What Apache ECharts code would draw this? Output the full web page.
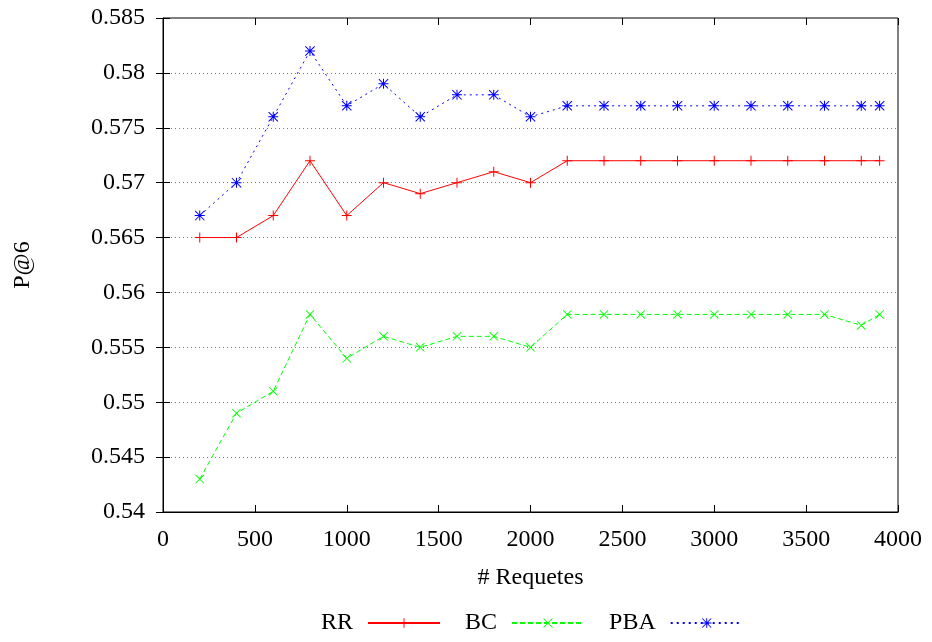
<!DOCTYPE html>
<html>
<head>
<meta charset="utf-8">
<script src="https://cdn.jsdelivr.net/npm/echarts@6/dist/echarts.min.js"></script>
<style>
  html, body { margin: 0; padding: 0; background: #fff; }
  #chart { width: 932px; height: 642px; }
</style>
</head>
<body>
<div id="chart"></div>
<script>
// nombre de requetes
const requetes = [200, 400, 600, 800, 1000, 1200, 1400, 1600, 1800, 2000,
                  2200, 2400, 2600, 2800, 3000, 3200, 3400, 3600, 3800, 3900];
const rr  = [0.565, 0.565, 0.567, 0.572, 0.567, 0.570, 0.569, 0.570, 0.571, 0.570,
             0.572, 0.572, 0.572, 0.572, 0.572, 0.572, 0.572, 0.572, 0.572, 0.572];
const bc  = [0.543, 0.549, 0.551, 0.558, 0.554, 0.556, 0.555, 0.556, 0.556, 0.555,
             0.558, 0.558, 0.558, 0.558, 0.558, 0.558, 0.558, 0.558, 0.557, 0.558];
const pba = [0.567, 0.570, 0.576, 0.582, 0.577, 0.579, 0.576, 0.578, 0.578, 0.576,
             0.577, 0.577, 0.577, 0.577, 0.577, 0.577, 0.577, 0.577, 0.577, 0.577];

const font = 'Liberation Serif';
const fsize = 24;

// symboles gnuplot
const plusPath = 'path://M4.5,0h1v10h-1z M0,4.5h10v1h-10z';
const crossPath = 'path://M0,0.7L0.7,0L10,9.3L9.3,10Z M9.3,0L10,0.7L0.7,10L0,9.3Z';
const starPath = 'path://M4.5,0h1v10h-1z M0,4.5h10v1h-10z M0,0.7L0.7,0L10,9.3L9.3,10Z M9.3,0L10,0.7L0.7,10L0,9.3Z';

function pairs(vals) {
    return requetes.map((x, i) => [x, vals[i]]);
}

const chart = echarts.init(document.getElementById('chart'));

const tick = { show: true, inside: true, length: 7, lineStyle: { color: '#000', width: 1 } };

const options = {
    animation: false,
    grid: {
        left: 163,
        right: 34,
        top: 18,
        bottom: 130,
        show: true,
        borderColor: '#000',
        borderWidth: 1
    },
    legend: {
        bottom: 2,
        left: 316,
        align: 'right',
        itemWidth: 72,
        itemHeight: 12,
        itemGap: 24,
        textStyle: { fontFamily: font, fontSize: fsize, color: '#000', padding: [0, 10, 0, 0] },
        data: ['RR', 'BC', 'PBA']
    },
    xAxis: [{
        type: 'value',
        min: 0,
        max: 4000,
        interval: 500,
        name: '# Requetes',
        nameLocation: 'middle',
        nameGap: 54,
        nameTextStyle: { fontFamily: font, fontSize: fsize, color: '#000' },
        axisLine: { show: true, lineStyle: { color: '#000' } },
        axisTick: tick,
        axisLabel: {
            fontFamily: font, fontSize: fsize, color: '#000', margin: 16,
            formatter: v => String(v)
        },
        splitLine: { show: false }
    }, {
        type: 'value',
        position: 'top',
        min: 0,
        max: 4000,
        interval: 500,
        axisLine: { show: false },
        axisTick: tick,
        axisLabel: { show: false },
        splitLine: { show: false }
    }],
    yAxis: [{
        type: 'value',
        min: 0.54,
        max: 0.585,
        interval: 0.005,
        name: 'P@6',
        nameLocation: 'middle',
        nameGap: 128,
        nameTextStyle: { fontFamily: font, fontSize: fsize, color: '#000' },
        axisLine: { show: true, lineStyle: { color: '#000' } },
        axisTick: tick,
        axisLabel: {
            fontFamily: font, fontSize: fsize, color: '#000', margin: 18,
            formatter: v => String(parseFloat(v.toFixed(3)))
        },
        splitLine: { show: true, lineStyle: { color: '#777', type: [1, 3], width: 1 } }
    }, {
        type: 'value',
        position: 'right',
        min: 0.54,
        max: 0.585,
        interval: 0.005,
        axisLine: { show: false },
        axisTick: tick,
        axisLabel: { show: false },
        splitLine: { show: false }
    }],
    series: [{
        name: 'RR',
        type: 'line',
        data: pairs(rr),
        symbol: plusPath,
        symbolSize: 10,
        itemStyle: { color: '#ff0000' },
        lineStyle: { color: '#ff0000', width: 1, type: 'solid' }
    }, {
        name: 'BC',
        type: 'line',
        data: pairs(bc),
        symbol: crossPath,
        symbolSize: 9,
        itemStyle: { color: '#00ff00' },
        lineStyle: { color: '#00ff00', width: 1, type: [5, 3] }
    }, {
        name: 'PBA',
        type: 'line',
        data: pairs(pba),
        symbol: starPath,
        symbolSize: 10,
        itemStyle: { color: '#0000ff' },
        lineStyle: { color: '#0000ff', width: 1, type: [2, 4] }
    }]
};
chart.setOption(options);
</script>
</body>
</html>
